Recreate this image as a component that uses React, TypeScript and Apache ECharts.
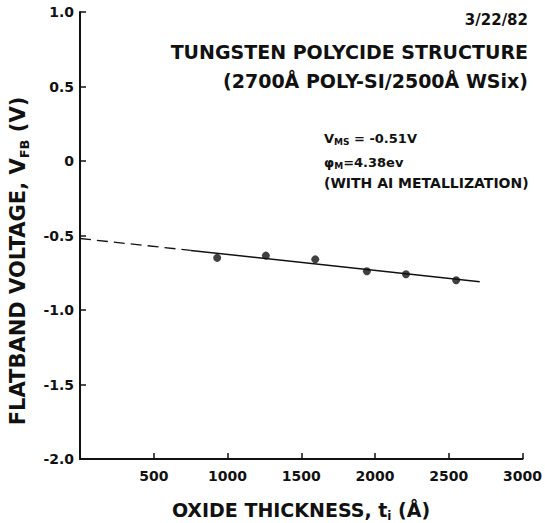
import React, { useEffect, useRef } from 'react';
import * as echarts from 'echarts';

// Measured data points (oxide thickness in Å, flatband voltage in V)
const thickness = [930, 1260, 1595, 1945, 2210, 2550];
const flatband = [-0.65, -0.635, -0.66, -0.74, -0.76, -0.8];

// Fitted line: dashed extrapolation and solid fit
const fitDashedX = [0, 750];
const fitDashedY = [-0.52, -0.6];
const fitSolidX = [750, 2710];
const fitSolidY = [-0.6, -0.81];

const FONT = 'DejaVu Sans';
const INK = '#111';

export default function App() {
  const ref = useRef<HTMLDivElement>(null);

  useEffect(() => {
    if (!ref.current) return;
    const chart = echarts.init(ref.current, null, { renderer: 'svg' });

    const sub = (size: number, lh: number) => ({
      fontFamily: FONT,
      fontWeight: 'bold',
      fontSize: size,
      lineHeight: lh,
      verticalAlign: 'bottom',
      fill: INK,
      color: INK,
    });
    const main = (size: number, lh: number) => ({
      fontFamily: FONT,
      fontWeight: 'bold',
      fontSize: size,
      lineHeight: lh,
      fill: INK,
      color: INK,
    });

    const option: any = {
      animation: false,
      backgroundColor: '#fff',
      grid: { left: 80, top: 12, width: 445, height: 447 },
      xAxis: {
        type: 'value',
        min: 0,
        max: 3000,
        interval: 500,
        axisLine: { show: true, onZero: false, lineStyle: { color: INK, width: 2 } },
        axisTick: { show: true, inside: true, length: 6, lineStyle: { color: INK, width: 1.5 } },
        axisLabel: {
          formatter: (v: number) => (v === 0 ? '' : String(v)),
          fontFamily: FONT,
          fontWeight: 'bold',
          fontSize: 14,
          color: INK,
          margin: 10,
        },
        splitLine: { show: false },
      },
      yAxis: {
        type: 'value',
        min: -2,
        max: 1,
        interval: 0.5,
        axisLine: { show: true, onZero: false, lineStyle: { color: INK, width: 2 } },
        axisTick: { show: true, inside: true, length: 6, lineStyle: { color: INK, width: 1.5 } },
        axisLabel: {
          formatter: (v: number) => (v === 0 ? '0' : v.toFixed(1)),
          fontFamily: FONT,
          fontWeight: 'bold',
          fontSize: 14,
          color: INK,
          margin: 6,
        },
        splitLine: { show: false },
      },
      series: [
        {
          type: 'line',
          data: fitDashedX.map((x, i) => [x, fitDashedY[i]]),
          symbol: 'none',
          lineStyle: { color: INK, width: 1.3, type: [11, 6] },
        },
        {
          type: 'line',
          data: fitSolidX.map((x, i) => [x, fitSolidY[i]]),
          symbol: 'none',
          lineStyle: { color: INK, width: 1.5 },
        },
        {
          type: 'scatter',
          data: thickness.map((x, i) => [x, flatband[i]]),
          symbolSize: 8,
          itemStyle: { color: INK },
        },
      ],
      graphic: [
        {
          type: 'text',
          x: 18,
          y: 261,
          rotation: Math.PI / 2,
          style: {
            text: '{a|FLATBAND VOLTAGE, V}{s|FB}{a| (V)}',
            align: 'center',
            verticalAlign: 'middle',
            rich: { a: main(21, 26), s: sub(13, 14) },
          },
        },
        {
          type: 'text',
          x: 301,
          y: 510,
          style: {
            text: '{a|OXIDE THICKNESS, t}{s|i}{a| (Å)}',
            align: 'center',
            verticalAlign: 'middle',
            rich: { a: main(19, 24), s: sub(12, 12) },
          },
        },
        {
          type: 'text',
          x: 528,
          y: 20,
          style: {
            text: '3/22/82',
            align: 'right',
            verticalAlign: 'middle',
            fontFamily: FONT,
            fontWeight: 'bold',
            fontSize: 15,
            fill: INK,
          },
        },
        {
          type: 'text',
          x: 528,
          y: 52,
          style: {
            text: 'TUNGSTEN POLYCIDE STRUCTURE',
            align: 'right',
            verticalAlign: 'middle',
            fontFamily: FONT,
            fontWeight: 'bold',
            fontSize: 19,
            fill: INK,
          },
        },
        {
          type: 'text',
          x: 528,
          y: 81,
          style: {
            text: '(2700Å POLY-SI/2500Å WSix)',
            align: 'right',
            verticalAlign: 'middle',
            fontFamily: FONT,
            fontWeight: 'bold',
            fontSize: 19,
            fill: INK,
          },
        },
        {
          type: 'text',
          x: 324,
          y: 138,
          style: {
            text: '{a|V}{s|MS}{a| = -0.51V}',
            align: 'left',
            verticalAlign: 'middle',
            rich: { a: main(13, 16), s: sub(9, 9) },
          },
        },
        {
          type: 'text',
          x: 324,
          y: 162,
          style: {
            text: '{a|φ}{s|M}{a|=4.38ev}',
            align: 'left',
            verticalAlign: 'middle',
            rich: { a: main(13, 16), s: sub(9, 9) },
          },
        },
        {
          type: 'text',
          x: 324,
          y: 183,
          style: {
            text: '(WITH AI METALLIZATION)',
            align: 'left',
            verticalAlign: 'middle',
            fontFamily: FONT,
            fontWeight: 'bold',
            fontSize: 14,
            fill: INK,
          },
        },
      ],
    };

    chart.setOption(option);
    return () => chart.dispose();
  }, []);

  return (
    <div
      ref={ref}
      style={{ position: 'fixed', left: 0, top: 0, width: 545, height: 523, background: '#fff' }}
    />
  );
}
